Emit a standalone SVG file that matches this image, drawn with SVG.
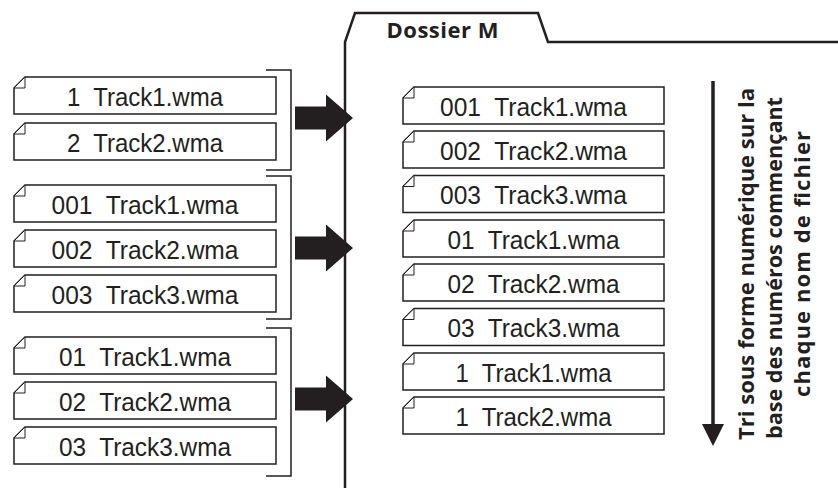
<svg xmlns="http://www.w3.org/2000/svg" width="838" height="488" viewBox="0 0 838 488">
<defs>
<style>
.box{fill:#fff;stroke:#231f20;stroke-width:1.5}
.fold{fill:#fff;stroke:#231f20;stroke-width:1}
.ft{font-family:"Liberation Sans",Arial,sans-serif;font-size:26px;fill:#231f20;text-anchor:middle}
.br{fill:none;stroke:#231f20;stroke-width:1.5}
.folder{fill:none;stroke:#231f20;stroke-width:2.5}
.lbl{font-family:"Open Sans","Noto Sans",sans-serif;font-weight:bold;fill:#231f20}
.blk{fill:#231f20}
</style>
<g id="file">
<path class="box" d="M11,0 H262 V37 H0 V11 Z"/>
<path class="fold" d="M11,0 V11 H0 Z"/>
</g>
<g id="fileR">
<path class="box" d="M11,0 H261 V37 H0 V11 Z"/>
<path class="fold" d="M11,0 V11 H0 Z"/>
</g>
</defs>
<rect width="838" height="488" fill="#fff"/>

<g id="folder">
<path class="folder" d="M345,488 V42 L355,13 H538 L548,42 H838"/>
<text class="lbl" x="442.5" y="38" font-size="22" text-anchor="middle" textLength="112" lengthAdjust="spacing">Dossier M</text>
</g>

<g id="group1">
<path class="br" d="M266,70 H291 V170 H266"/>
<g id="g1-1"><use href="#file" x="14" y="77"/><text class="ft" x="145" y="105.5" xml:space="preserve" textLength="156" lengthAdjust="spacingAndGlyphs">1  Track1.wma</text></g>
<g id="g1-2"><use href="#file" x="14" y="123"/><text class="ft" x="145" y="151.5" xml:space="preserve" textLength="156" lengthAdjust="spacingAndGlyphs">2  Track2.wma</text></g>
</g>

<g id="group2">
<path class="br" d="M266,176 H291 V319 H266"/>
<g id="g2-1"><use href="#file" x="14" y="185"/><text class="ft" x="145" y="213.5" xml:space="preserve" textLength="187" lengthAdjust="spacingAndGlyphs">001  Track1.wma</text></g>
<g id="g2-2"><use href="#file" x="14" y="230"/><text class="ft" x="145" y="258.5" xml:space="preserve" textLength="187" lengthAdjust="spacingAndGlyphs">002  Track2.wma</text></g>
<g id="g2-3"><use href="#file" x="14" y="275"/><text class="ft" x="145" y="303.5" xml:space="preserve" textLength="187" lengthAdjust="spacingAndGlyphs">003  Track3.wma</text></g>
</g>

<g id="group3">
<path class="br" d="M266,328 H291 V476 H266"/>
<g id="g3-1"><use href="#file" x="14" y="337"/><text class="ft" x="145" y="365.5" xml:space="preserve" textLength="172" lengthAdjust="spacingAndGlyphs">01  Track1.wma</text></g>
<g id="g3-2"><use href="#file" x="14" y="382"/><text class="ft" x="145" y="410.5" xml:space="preserve" textLength="172" lengthAdjust="spacingAndGlyphs">02  Track2.wma</text></g>
<g id="g3-3"><use href="#file" x="14" y="427"/><text class="ft" x="145" y="455.5" xml:space="preserve" textLength="172" lengthAdjust="spacingAndGlyphs">03  Track3.wma</text></g>
</g>

<g id="sorted">
<g id="s1"><use href="#fileR" x="403" y="87"/><text class="ft" x="533.5" y="115.5" xml:space="preserve" textLength="187" lengthAdjust="spacingAndGlyphs">001  Track1.wma</text></g>
<g id="s2"><use href="#fileR" x="403" y="131"/><text class="ft" x="533.5" y="159.5" xml:space="preserve" textLength="187" lengthAdjust="spacingAndGlyphs">002  Track2.wma</text></g>
<g id="s3"><use href="#fileR" x="403" y="175.5"/><text class="ft" x="533.5" y="204" xml:space="preserve" textLength="187" lengthAdjust="spacingAndGlyphs">003  Track3.wma</text></g>
<g id="s4"><use href="#fileR" x="403" y="220"/><text class="ft" x="533.5" y="248.5" xml:space="preserve" textLength="172" lengthAdjust="spacingAndGlyphs">01  Track1.wma</text></g>
<g id="s5"><use href="#fileR" x="403" y="264"/><text class="ft" x="533.5" y="292.5" xml:space="preserve" textLength="172" lengthAdjust="spacingAndGlyphs">02  Track2.wma</text></g>
<g id="s6"><use href="#fileR" x="403" y="308.5"/><text class="ft" x="533.5" y="337" xml:space="preserve" textLength="172" lengthAdjust="spacingAndGlyphs">03  Track3.wma</text></g>
<g id="s7"><use href="#fileR" x="403" y="353"/><text class="ft" x="533.5" y="381.5" xml:space="preserve" textLength="156" lengthAdjust="spacingAndGlyphs">1  Track1.wma</text></g>
<g id="s8"><use href="#fileR" x="403" y="397"/><text class="ft" x="533.5" y="425.5" xml:space="preserve" textLength="156" lengthAdjust="spacingAndGlyphs">1  Track2.wma</text></g>
</g>

<g id="connectors">
<polygon class="blk" points="295,106.5 326,106.5 326,94.5 353,118 326,141.5 326,129.5 295,129.5"/>
<polygon class="blk" points="295,236.5 326,236.5 326,224.5 353,248 326,271.5 326,259.5 295,259.5"/>
<polygon class="blk" points="295,387.5 326,387.5 326,375.5 353,399 326,422.5 326,410.5 295,410.5"/>
</g>

<g id="sort-note">
<line x1="713" y1="81" x2="713" y2="426" stroke="#231f20" stroke-width="3.5"/>
<polygon class="blk" points="702,424 724,424 713,446"/>
<text class="lbl" font-size="22" text-anchor="middle" textLength="352" lengthAdjust="spacingAndGlyphs" transform="translate(754,264) rotate(-90)">Tri sous forme numérique sur la</text>
<text class="lbl" font-size="22" text-anchor="middle" textLength="342" lengthAdjust="spacingAndGlyphs" transform="translate(782,268) rotate(-90)">base des numéros commençant</text>
<text class="lbl" font-size="22" text-anchor="middle" textLength="266" lengthAdjust="spacing" transform="translate(810,264) rotate(-90)">chaque nom de fichier</text>
</g>
</svg>
